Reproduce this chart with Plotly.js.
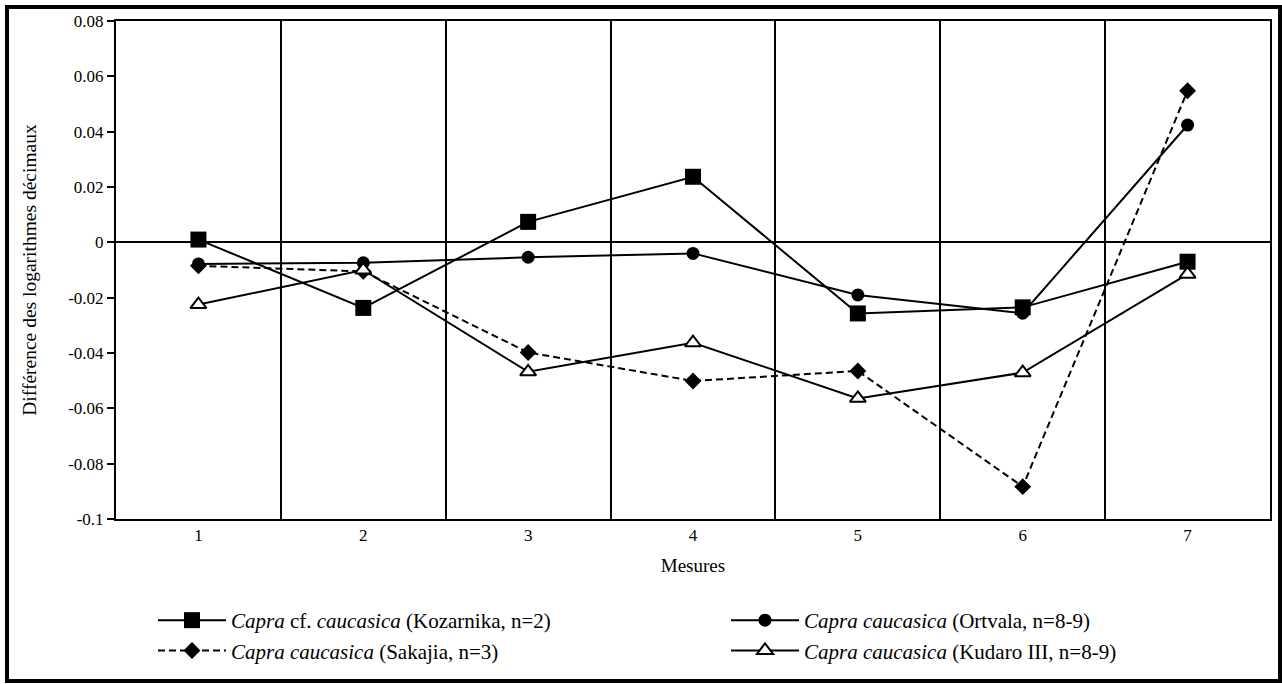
<!DOCTYPE html>
<html>
<head>
<meta charset="utf-8">
<script src="https://cdn.plot.ly/plotly-3.0.1.min.js"></script>
<style>
  html, body { margin: 0; padding: 0; background: #fff; }
  #chart { width: 1282px; height: 684px; }
</style>
</head>
<body>
<div id="chart"></div>
<script>
// ---- data ----
const categories = ['1', '2', '3', '4', '5', '6', '7'];

const kozarnikaName = '<i>Capra</i> cf. <i>caucasica</i> (Kozarnika, n=2)';
const kozarnika = [0.001, -0.0237, 0.0074, 0.0237, -0.0257, -0.0235, -0.0070];

const ortvalaName = '<i>Capra caucasica</i> (Ortvala, n=8-9)';
const ortvala = [-0.0078, -0.0074, -0.0054, -0.0040, -0.0190, -0.0256, 0.0424];

const sakajiaName = '<i>Capra caucasica</i> (Sakajia, n=3)';
const sakajia = [-0.0085, -0.0105, -0.0398, -0.0501, -0.0465, -0.0883, 0.0548];

const kudaroName = '<i>Capra caucasica</i> (Kudaro III, n=8-9)';
const kudaro = [-0.0225, -0.0100, -0.0468, -0.0363, -0.0564, -0.0471, -0.0115];

const yTickVals = [-0.1, -0.08, -0.06, -0.04, -0.02, 0, 0.02, 0.04, 0.06, 0.08];
const yTickText = ['-0.1', '-0.08', '-0.06', '-0.04', '-0.02', '0', '0.02', '0.04', '0.06', '0.08'];

const xTitle = 'Mesures';
const yTitle = 'Différence des logarithmes décimaux';

// ---- traces ----
const FONT = 'Liberation Serif, Times New Roman, serif';
const lineW = 2;

const traces = [
  {
    x: categories, y: kozarnika, name: kozarnikaName, type: 'scatter', mode: 'lines+markers',
    line: { color: '#000', width: lineW },
    marker: { symbol: 'square', size: 16, color: '#000' }
  },
  {
    x: categories, y: ortvala, name: ortvalaName, type: 'scatter', mode: 'lines+markers',
    line: { color: '#000', width: lineW },
    marker: { symbol: 'circle', size: 13, color: '#000' }
  },
  {
    x: categories, y: sakajia, name: sakajiaName, type: 'scatter', mode: 'lines+markers',
    line: { color: '#000', width: lineW, dash: '7px,4px' },
    marker: { symbol: 'diamond', size: 13, color: '#000' }
  },
  {
    x: categories, y: kudaro, name: kudaroName, type: 'scatter', mode: 'lines+markers',
    line: { color: '#000', width: lineW },
    marker: { symbol: 'triangle-up', size: 14, color: '#fff', line: { color: '#000', width: 2 } }
  }
];

// plot area: left 116, right 1270, top 21, bottom 519
const L = 116, R = 12, T = 21, B = 165;
const PW = 1282 - L - R, PH = 684 - T - B;
const px2x = p => (p - L) / PW;
const py2y = p => (684 - B - p) / PH;

const layout = {
  width: 1282, height: 684,
  paper_bgcolor: '#fff', plot_bgcolor: '#fff',
  margin: { l: L, r: R, t: T, b: B, autoexpand: false },
  font: { family: FONT, color: '#000' },
  showlegend: true,
  xaxis: {
    type: 'category',
    range: [-0.5, 6.5],
    tickson: 'boundaries',
    showgrid: true, gridcolor: '#000', gridwidth: 2,
    ticks: '', ticklen: 0,
    showline: true, linecolor: '#000', linewidth: 2, mirror: true,
    tickfont: { family: FONT, size: 17, color: '#000' },
    title: { text: xTitle, font: { family: FONT, size: 19, color: '#000' }, standoff: 14 },
    zeroline: false,
    fixedrange: true
  },
  yaxis: {
    range: [-0.1, 0.08],
    tickvals: yTickVals, ticktext: yTickText,
    showgrid: false,
    zeroline: true, zerolinecolor: '#000', zerolinewidth: 2,
    ticks: 'outside', ticklen: 7, tickwidth: 2, tickcolor: '#000',
    showline: true, linecolor: '#000', linewidth: 2, mirror: true,
    tickfont: { family: FONT, size: 17, color: '#000' },
    title: { text: yTitle, font: { family: FONT, size: 19.5, color: '#000' }, standoff: 26 },
    fixedrange: true
  },
  legend: {
    orientation: 'h',
    x: px2x(153), xanchor: 'left',
    y: py2y(600), yanchor: 'top',
    entrywidth: 490, entrywidthmode: 'pixels',
    itemwidth: 68,
    font: { family: FONT, size: 21, color: '#000' },
    bgcolor: 'rgba(0,0,0,0)',
    traceorder: 'normal'
  },
  shapes: [
    {
      type: 'rect', xref: 'paper', yref: 'paper',
      x0: px2x(7), x1: px2x(1280), y0: py2y(681), y1: py2y(7),
      line: { color: '#000', width: 4 }, fillcolor: 'rgba(0,0,0,0)', layer: 'above'
    }
  ]
};

Plotly.newPlot('chart', traces, layout, { displayModeBar: false, staticPlot: true });
</script>
</body>
</html>
